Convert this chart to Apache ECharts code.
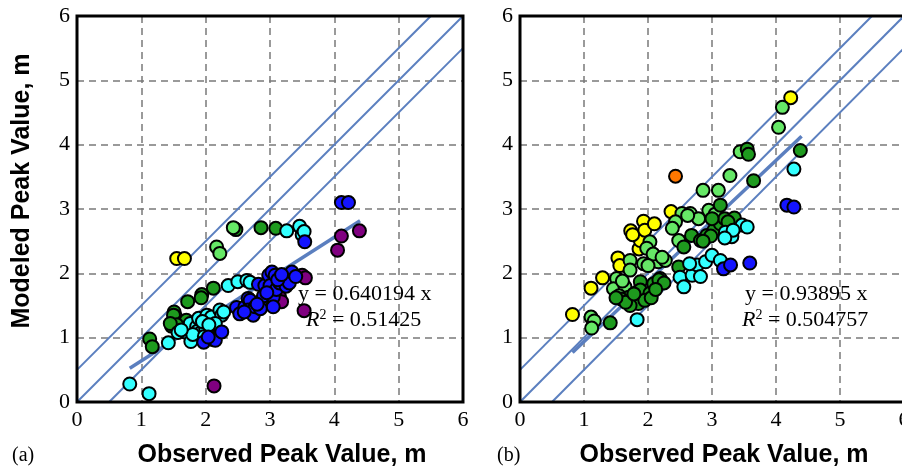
<!DOCTYPE html>
<html>
<head>
<meta charset="utf-8">
<script src="https://cdn.jsdelivr.net/npm/echarts@6/dist/echarts.min.js"></script>
<style>
  html, body { margin: 0; padding: 0; background: #fff; }
  #chart { width: 902px; height: 468px; }
</style>
</head>
<body>
<div id="chart"></div>
<script>
// axis ticks
const tickValues = [0, 1, 2, 3, 4, 5, 6]

// reference lines (1:1 and +/- 0.5 m)
const lineOneToOne = [[0, 0], [6, 6]]
const lineUpper = [[0, 0.5], [5.5, 6]]
const lineLower = [[0.5, 0], [6, 5.5]]

// fitted lines
const fitRangeX = [0.82, 4.4]
const fitSlopeA = 0.640194
const fitSlopeB = 0.93895
const r2A = 0.51425
const r2B = 0.504757

// panel (a) points, by colour
const aYellow = [[1.55, 2.23], [1.67, 2.23]]
const aLightGreen = [[2.17, 2.41], [2.22, 2.31], [2.43, 2.71]]
const aGreen = [[2.47, 2.68], [2.86, 2.71], [3.09, 2.70], [1.13, 0.98], [1.17, 0.86], [2.12, 1.77], [1.94, 1.67],
  [1.93, 1.62], [1.72, 1.56], [1.51, 1.40], [1.53, 1.33], [1.47, 1.18], [1.50, 1.35], [1.65, 1.24], [1.58, 1.15],
  [1.70, 1.27], [1.55, 1.20], [1.45, 1.22]]
const aCyan = [[0.82, 0.28], [1.12, 0.13], [1.42, 0.92], [1.57, 1.08], [1.68, 1.09], [1.77, 0.94], [1.76, 1.22],
  [1.86, 1.17], [1.87, 1.10], [1.89, 1.30], [1.94, 1.09], [2.00, 1.14], [2.02, 1.35], [2.09, 1.32], [2.09, 1.01],
  [2.22, 1.43], [2.25, 1.35], [2.28, 1.40], [2.35, 1.81], [2.50, 1.87], [2.64, 1.89], [2.69, 1.86], [3.26, 2.66],
  [3.46, 2.73], [3.50, 2.60], [3.53, 2.65], [1.95, 1.25], [2.15, 1.22], [1.80, 1.05], [1.62, 1.12], [1.98, 1.02],
  [2.05, 1.20]]
const aBlue = [[1.97, 0.93], [2.12, 0.97], [2.15, 0.96], [2.25, 1.09], [2.04, 1.01], [3.54, 2.49], [4.11, 3.10],
  [4.22, 3.10], [2.48, 1.47], [2.53, 1.37], [2.61, 1.48], [2.66, 1.61], [2.69, 1.58], [2.66, 1.43], [2.74, 1.35],
  [2.77, 1.48], [2.82, 1.83], [2.87, 1.58], [2.92, 1.81], [2.90, 1.65], [2.98, 1.97], [3.00, 1.81], [3.03, 2.02],
  [3.05, 1.63], [3.05, 1.48], [3.08, 1.97], [3.10, 1.75], [3.15, 1.85], [3.21, 1.92], [3.25, 1.80], [3.30, 1.85],
  [3.34, 2.02], [3.40, 1.95], [2.85, 1.45], [2.60, 1.40], [3.12, 1.90], [3.18, 1.98], [2.80, 1.52], [2.95, 1.70]]
const aPurple = [[2.13, 0.25], [3.53, 1.42], [3.50, 1.97], [3.55, 1.93], [3.15, 1.63], [3.18, 1.56], [4.05, 2.36],
  [4.11, 2.58], [4.39, 2.66]]

// panel (b) points, by colour
const bYellow = [[0.82, 1.36], [1.11, 1.77], [1.29, 1.93], [1.53, 2.24], [1.56, 2.12], [1.86, 2.38], [1.88, 2.51],
  [1.73, 2.66], [1.76, 2.60], [1.93, 2.81], [1.95, 2.67], [2.10, 2.77], [2.36, 2.96], [4.23, 4.73]]
const bOrange = [[2.43, 3.51]]
const bLightGreen = [[1.11, 1.32], [1.16, 1.26], [1.12, 1.15], [2.86, 3.29], [3.10, 3.29], [3.28, 3.52], [3.44, 3.89],
  [4.04, 4.27], [4.10, 4.58], [2.03, 2.49], [1.98, 2.39], [2.16, 2.18], [2.27, 2.20], [1.93, 2.15], [1.72, 2.20],
  [1.72, 2.05], [1.51, 1.92], [1.46, 1.76], [1.64, 1.79], [1.83, 1.71], [2.19, 1.92], [2.53, 2.93], [2.66, 2.93],
  [2.79, 2.85], [2.95, 2.98], [2.48, 2.51], [2.43, 2.80], [2.38, 2.70], [2.08, 2.30], [2.00, 2.12], [2.22, 2.25],
  [1.60, 1.88], [1.55, 1.65], [2.62, 2.90], [3.05, 2.92]]
const bGreen = [[1.41, 1.23], [3.55, 3.93], [3.57, 3.85], [3.65, 3.44], [4.38, 3.91], [1.88, 1.87], [1.88, 1.74],
  [1.70, 1.63], [1.85, 1.53], [2.03, 1.69], [2.09, 1.84], [2.17, 1.90], [1.58, 1.60], [1.72, 1.50], [2.68, 2.59],
  [2.82, 2.51], [2.92, 2.59], [3.03, 2.67], [3.13, 2.77], [2.56, 2.41], [2.48, 2.10], [3.13, 3.06], [3.20, 2.85],
  [3.35, 2.86], [3.00, 2.85], [2.98, 2.58], [2.86, 2.50], [1.95, 1.58], [2.05, 1.62], [1.65, 1.55], [1.50, 1.62],
  [2.25, 1.85], [1.78, 1.68], [2.12, 1.75], [3.25, 2.80]]
const bCyan = [[1.83, 1.28], [4.28, 3.62], [2.50, 1.94], [2.69, 1.97], [2.77, 2.13], [2.90, 2.18], [2.56, 1.79],
  [3.00, 2.28], [3.13, 2.20], [2.65, 2.15], [2.82, 1.95], [3.47, 2.75], [3.55, 2.72], [3.21, 2.64], [3.31, 2.57],
  [3.33, 2.67], [3.20, 2.55]]
const bBlue = [[4.17, 3.06], [4.28, 3.03], [3.18, 2.07], [3.29, 2.13], [3.59, 2.16]]

const colors = {
  yellow: '#ffff00',
  orange: '#ff7700',
  lightGreen: '#66e866',
  green: '#1e9a1e',
  cyan: '#33ffff',
  blue: '#1414ff',
  purple: '#800080',
  line: '#5b7fbf'
}

const serif = '"Liberation Serif", "DejaVu Serif", serif'
const sans = '"Liberation Sans", Arial, sans-serif'

const chart = echarts.init(document.getElementById('chart'))

const makeAxis = (gridIndex) => ({
  gridIndex,
  type: 'value',
  min: tickValues[0],
  max: tickValues[tickValues.length - 1],
  interval: 1,
  axisLine: { show: false },
  axisTick: { show: false },
  axisLabel: { fontFamily: serif, fontSize: 22, color: '#000', margin: 7 },
  splitLine: { show: true, lineStyle: { color: '#7a7a7a', width: 1.5, type: [7, 5] } }
})

const refLine = (data, idx, width) => ({
  type: 'line',
  xAxisIndex: idx,
  yAxisIndex: idx,
  data,
  showSymbol: false,
  silent: true,
  z: 1,
  lineStyle: { color: colors.line, width }
})

const scatter = (data, idx, color) => ({
  type: 'scatter',
  xAxisIndex: idx,
  yAxisIndex: idx,
  data,
  symbolSize: 13,
  z: 3,
  itemStyle: { color, borderColor: '#000', borderWidth: 2, opacity: 1 }
})

const fitLine = (slope) => fitRangeX.map(x => [x, slope * x])

const titleStyle = (text) => ({ text, font: 'bold 25px ' + sans, fill: '#000', align: 'center', verticalAlign: 'middle' })

const r2Style = (value) => ({
  text: '{i|R}{s|2}{n| = ' + value + '}', fill: '#000', align: 'left', verticalAlign: 'middle',
  rich: {
    i: { fontFamily: serif, fontSize: 22, fontStyle: 'italic' },
    s: { fontFamily: serif, fontSize: 14, padding: [0, 0, 10, 0] },
    n: { fontFamily: serif, fontSize: 22 }
  }
})

const option = {
  animation: false,
  backgroundColor: '#fff',
  grid: [
    { left: 77, top: 16, width: 386, height: 386, outerBoundsMode: 'none', show: true, borderColor: '#000', borderWidth: 3, backgroundColor: 'transparent', z: 5 },
    { left: 520, top: 16, width: 384, height: 386, outerBoundsMode: 'none', show: true, borderColor: '#000', borderWidth: 3, backgroundColor: 'transparent', z: 5 }
  ],
  xAxis: [makeAxis(0), makeAxis(1)],
  yAxis: [makeAxis(0), makeAxis(1)],
  series: [
    refLine(lineOneToOne, 0, 2),
    refLine(lineUpper, 0, 2),
    refLine(lineLower, 0, 2),
    refLine(fitLine(fitSlopeA), 0, 3.5),
    scatter(aPurple, 0, colors.purple),
    scatter(aGreen, 0, colors.green),
    scatter(aLightGreen, 0, colors.lightGreen),
    scatter(aYellow, 0, colors.yellow),
    scatter(aCyan, 0, colors.cyan),
    scatter(aBlue, 0, colors.blue),

    refLine(lineOneToOne, 1, 2),
    refLine(lineUpper, 1, 2),
    refLine(lineLower, 1, 2),
    refLine(fitLine(fitSlopeB), 1, 3.5),
    scatter(bYellow, 1, colors.yellow),
    scatter(bLightGreen, 1, colors.lightGreen),
    scatter(bGreen, 1, colors.green),
    scatter(bCyan, 1, colors.cyan),
    scatter(bBlue, 1, colors.blue),
    scatter(bOrange, 1, colors.orange)
  ],
  graphic: [
    // axis titles
    { type: 'text', x: 282, y: 455, z: 10, style: titleStyle('Observed Peak Value, m') },
    { type: 'text', x: 724, y: 455, z: 10, style: titleStyle('Observed Peak Value, m') },
    { type: 'text', x: 22, y: 191, rotation: Math.PI / 2, z: 10, style: titleStyle('Modeled Peak Value, m') },
    // panel labels
    { type: 'text', x: 12, y: 456, z: 10, style: { text: '(a)', font: '20px ' + serif, fill: '#000', align: 'left', verticalAlign: 'middle' } },
    { type: 'text', x: 497, y: 456, z: 10, style: { text: '(b)', font: '20px ' + serif, fill: '#000', align: 'left', verticalAlign: 'middle' } },
    // fit equations
    { type: 'text', x: 298, y: 294, z: 10, style: { text: 'y = ' + fitSlopeA + ' x', font: '22px ' + serif, fill: '#000', align: 'left', verticalAlign: 'middle' } },
    { type: 'text', x: 306, y: 320, z: 10, style: r2Style(r2A) },
    { type: 'text', x: 745, y: 294, z: 10, style: { text: 'y = ' + fitSlopeB + ' x', font: '22px ' + serif, fill: '#000', align: 'left', verticalAlign: 'middle' } },
    { type: 'text', x: 742, y: 320, z: 10, style: r2Style(r2B) }
  ]
}

chart.setOption(option)
</script>
</body>
</html>
